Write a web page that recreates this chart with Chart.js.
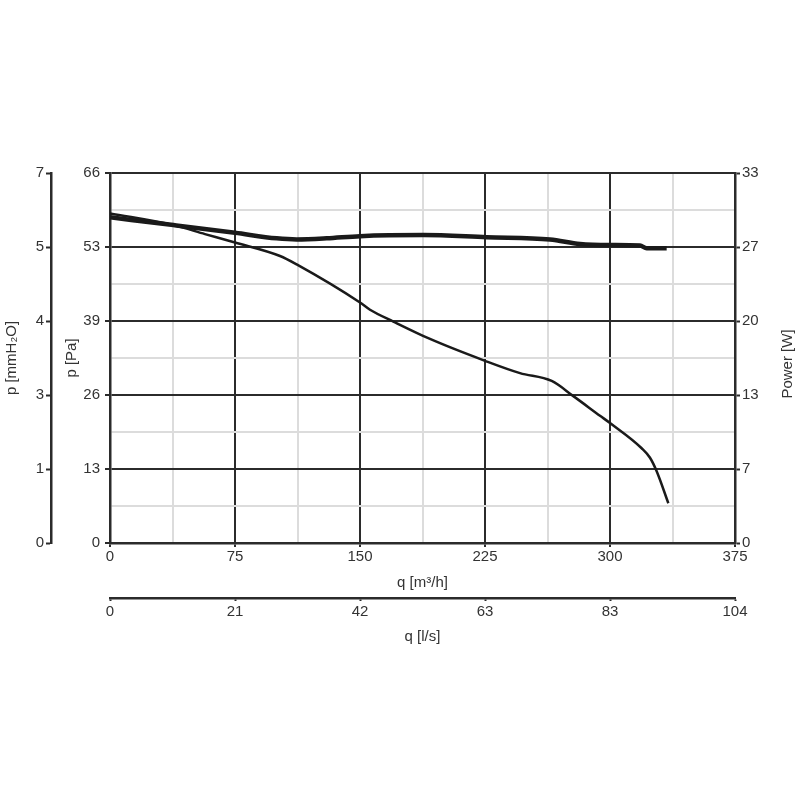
<!DOCTYPE html>
<html>
<head>
<meta charset="utf-8">
<script src="https://cdn.jsdelivr.net/npm/chart.js@4.4.1/dist/chart.umd.min.js"></script>
<style>
  html, body { margin: 0; padding: 0; background: #fff; }
  canvas { display: block; }
</style>
</head>
<body>
<canvas id="chart" width="800" height="800"></canvas>
<script>
'use strict';

// flow axis [m3/h] and the l/s axis under it
var flowTicks = [0, 75, 150, 225, 300, 375];
var flowLsLabels = ['0', '21', '42', '63', '83', '104'];

// pressure axes
var pressureTicks = [0, 13.2, 26.4, 39.6, 52.8, 66];
var pressureLabels = ['0', '13', '26', '39', '53', '66'];
var mmH2OLabels = ['0', '1', '3', '4', '5', '7'];

// power axis
var powerMax = 33.4;
var powerLabels = ['0', '7', '13', '20', '27', '33'];

// static pressure curve
var pressureFlow = [0, 38, 57, 75, 102, 112, 150, 156, 170, 192, 225, 246, 265, 278, 294, 300, 319, 324, 328, 335];
var pressureValues = [58.8, 56.7, 55.1, 53.6, 51.2, 49.7, 42.9, 41.6, 39.5, 36.4, 32.5, 30.3, 28.9, 26.2, 22.7, 21.4, 16.9, 15.2, 12.8, 7.1];

// power curve
var powerFlow = [0, 38, 75, 100, 112, 130, 150, 188, 226, 264, 282, 300, 318, 322, 334];
var powerValues = [29.4, 28.7, 28.0, 27.5, 27.4, 27.5, 27.7, 27.8, 27.6, 27.4, 27.0, 26.9, 26.85, 26.6, 26.6];

var textColor = '#333';
var darkLine = '#2b2b2b';
var lightLine = '#dcdcdc';
var fontFamily = '"Liberation Sans", Arial, sans-serif';

Chart.defaults.font.family = fontFamily;
Chart.defaults.font.size = 15;
Chart.defaults.color = textColor;

function toPoints(xs, ys) {
    return xs.map(function (x, i) { return {x: x, y: ys[i]}; });
}

// major ticks plus a minor one half way between each pair
function withMinor(major) {
    var out = [];
    major.forEach(function (v, i) {
        out.push({value: v});
        if (i < major.length - 1) out.push({value: (v + major[i + 1]) / 2});
    });
    return out;
}

function plainTicks(values) {
    return values.map(function (v) { return {value: v}; });
}

var majorMinorGrid = {
    color: function (ctx) { return ctx.index % 2 ? lightLine : darkLine; },
    tickColor: function (ctx) { return ctx.index % 2 ? 'rgba(0,0,0,0)' : darkLine; },
    lineWidth: 2,
    tickWidth: 2,
    tickLength: 5
};

var axisBorder = {color: darkLine, width: 2.5};

var powerTitle = {
    id: 'powerTitle',
    afterDraw: function (chart) {
        var ctx = chart.ctx,
            scale = chart.scales.power,
            area = chart.chartArea;
        ctx.save();
        ctx.translate(scale.right - 12, (area.top + area.bottom) / 2 + 6);
        ctx.rotate(-Math.PI / 2);
        ctx.font = '15px ' + fontFamily;
        ctx.fillStyle = textColor;
        ctx.textAlign = 'center';
        ctx.textBaseline = 'middle';
        ctx.fillText('Power [W]', 0, 0);
        ctx.restore();
    }
};

var context = document.getElementById('chart').getContext('2d');

new Chart(context, {
    type: 'line',
    data: {
        datasets: [{
            label: 'p [Pa]',
            data: toPoints(pressureFlow, pressureValues),
            xAxisID: 'x',
            yAxisID: 'y',
            borderColor: '#1a1a1a',
            borderWidth: 2.5,
            pointRadius: 0,
            cubicInterpolationMode: 'monotone',
            fill: false
        }, {
            label: 'Power [W]',
            data: toPoints(powerFlow, powerValues),
            xAxisID: 'x',
            yAxisID: 'power',
            borderColor: '#1a1a1a',
            borderWidth: 4.5,
            pointRadius: 0,
            cubicInterpolationMode: 'monotone',
            fill: false
        }]
    },
    options: {
        responsive: false,
        animation: false,
        layout: {padding: {top: 173, left: 0, right: 0, bottom: 148}},
        plugins: {
            legend: {display: false},
            tooltip: {enabled: false}
        },
        scales: {
            x: {
                type: 'linear',
                position: 'bottom',
                min: 0,
                max: 375,
                afterBuildTicks: function (scale) { scale.ticks = withMinor(flowTicks); },
                afterFit: function (scale) { scale.height = 55; },
                ticks: {
                    autoSkip: false,
                    maxRotation: 0,
                    padding: 1,
                    callback: function (value, index) {
                        return index % 2 ? '' : String(flowTicks[index / 2]);
                    }
                },
                grid: Object.assign({}, majorMinorGrid, {tickLength: 4}),
                border: axisBorder,
                title: {display: true, text: 'q [m³/h]', padding: {top: 0, bottom: 6}}
            },
            xls: {
                type: 'linear',
                position: 'bottom',
                weight: 1,
                min: 0,
                max: 375 / 3.6,
                afterBuildTicks: function (scale) {
                    scale.ticks = plainTicks(flowTicks.map(function (v) { return v / 3.6; }));
                },
                afterFit: function (scale) { scale.height = 54; },
                ticks: {
                    autoSkip: false,
                    maxRotation: 0,
                    padding: 2,
                    callback: function (value, index) { return flowLsLabels[index]; }
                },
                grid: {drawOnChartArea: false, tickLength: 3, tickWidth: 2, tickColor: darkLine},
                border: axisBorder,
                title: {display: true, text: 'q [l/s]', padding: {top: 0, bottom: 6}}
            },
            y: {
                type: 'linear',
                position: 'left',
                min: 0,
                max: 66,
                afterBuildTicks: function (scale) { scale.ticks = withMinor(pressureTicks); },
                afterFit: function (scale) { scale.width = 59; },
                ticks: {
                    padding: 5,
                    callback: function (value, index) {
                        return index % 2 ? '' : pressureLabels[index / 2];
                    }
                },
                grid: majorMinorGrid,
                border: axisBorder,
                title: {display: true, text: 'p [Pa]', padding: {top: 12, bottom: 0}}
            },
            mm: {
                type: 'linear',
                position: 'left',
                weight: 1,
                min: 0,
                max: 66 / 9.80665,
                afterBuildTicks: function (scale) {
                    scale.ticks = plainTicks(pressureTicks.map(function (v) { return v / 9.80665; }));
                },
                afterFit: function (scale) { scale.width = 51; },
                ticks: {
                    padding: 2,
                    callback: function (value, index) { return mmH2OLabels[index]; }
                },
                grid: {drawOnChartArea: false, tickLength: 5, tickWidth: 2, tickColor: darkLine},
                border: axisBorder,
                title: {display: true, text: 'p [mmH₂O]', padding: {top: 3, bottom: 0}}
            },
            power: {
                type: 'linear',
                position: 'right',
                min: 0,
                max: powerMax,
                afterBuildTicks: function (scale) {
                    scale.ticks = plainTicks(pressureTicks.map(function (v) { return v / 66 * powerMax; }));
                },
                afterFit: function (scale) { scale.width = 65; },
                ticks: {
                    padding: 2,
                    callback: function (value, index) { return powerLabels[index]; }
                },
                grid: {drawOnChartArea: false, tickLength: 5, tickWidth: 2, tickColor: darkLine},
                border: axisBorder
            }
        }
    },
    plugins: [powerTitle]
});
</script>
</body>
</html>
